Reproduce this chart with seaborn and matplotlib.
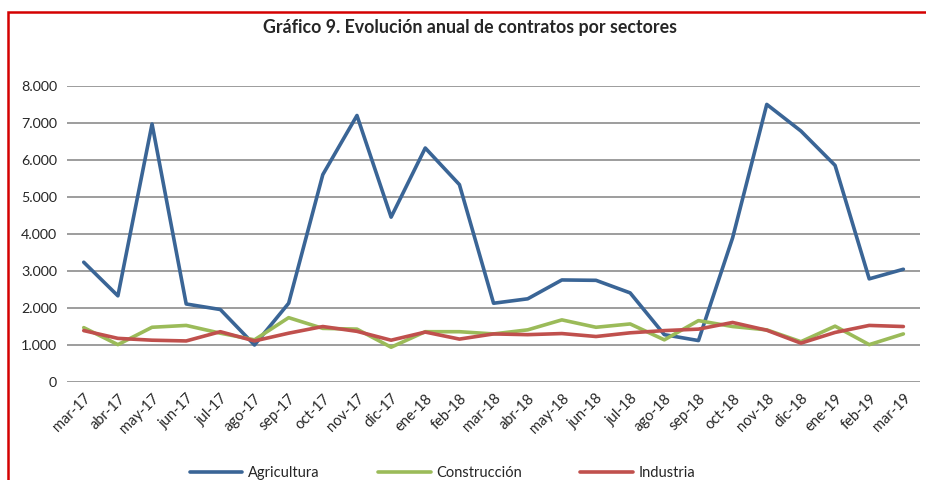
import pandas as pd
import matplotlib.pyplot as plt
import seaborn as sns
from matplotlib.patches import Rectangle

meses = ['mar-17', 'abr-17', 'may-17', 'jun-17', 'jul-17', 'ago-17', 'sep-17',
         'oct-17', 'nov-17', 'dic-17', 'ene-18', 'feb-18', 'mar-18', 'abr-18',
         'may-18', 'jun-18', 'jul-18', 'ago-18', 'sep-18', 'oct-18', 'nov-18',
         'dic-18', 'ene-19', 'feb-19', 'mar-19']

agricultura = [3230, 2320, 6970, 2100, 1950, 990, 2120, 5600, 7200, 4450,
               6320, 5330, 2120, 2240, 2750, 2740, 2400, 1270, 1110, 3890,
               7500, 6780, 5850, 2780, 3040]
construccion = [1460, 1000, 1470, 1520, 1310, 1130, 1730, 1440, 1420, 930,
                1350, 1350, 1290, 1400, 1670, 1470, 1560, 1130, 1650, 1490,
                1400, 1080, 1500, 1000, 1290]
industria = [1380, 1170, 1120, 1100, 1350, 1100, 1310, 1490, 1360, 1120,
             1340, 1150, 1290, 1270, 1300, 1220, 1320, 1380, 1420, 1600,
             1390, 1040, 1330, 1520, 1490]

sectores = ['Agricultura', 'Construcción', 'Industria']
colores = ['#3A6596', '#9BBB59', '#C0504D']

df = pd.DataFrame({
    'mes': meses * 3,
    'pos': list(range(len(meses))) * 3,
    'sector': [s for s in sectores for _ in meses],
    'contratos': agricultura + construccion + industria,
})

sns.set_style('white')
plt.rcParams['font.family'] = ['Lato', 'DejaVu Sans']

fig = plt.figure(figsize=(9.26, 4.8), dpi=100)
ax = fig.add_axes([0.072, 0.205, 0.922, 0.616])

sns.lineplot(data=df, x='pos', y='contratos', hue='sector', palette=colores,
             linewidth=2.6, ax=ax, legend=True)

ax.set_xlim(-0.5, len(meses) - 0.5)
ax.set_ylim(0, 8000)
ax.set_yticks(range(0, 8001, 1000))
ax.set_yticklabels(['0'] + [f'{v // 1000}.000' for v in range(1000, 8001, 1000)],
                   fontsize=10.3)
ax.set_xticks(range(len(meses)))
ax.set_xticklabels(meses, rotation=45, ha='right', rotation_mode='anchor',
                   fontsize=10.5)
ax.tick_params(axis='both', length=0, pad=7)
ax.yaxis.grid(True, color='#8C8C8C', linewidth=1.2)
ax.set_axisbelow(True)
for s in ax.spines.values():
    s.set_visible(False)
ax.set_xlabel('')
ax.set_ylabel('')

handles, labels = ax.get_legend_handles_labels()
ax.legend(handles, labels, loc='center', bbox_to_anchor=(0.478, 0.015),
          bbox_transform=fig.transFigure, ncol=3, frameon=False, fontsize=10.5,
          handlelength=3.6, columnspacing=4.0, handletextpad=0.4)

fig.text(0.508, 0.942, 'Gráfico 9. Evolución anual de contratos por sectores',
         ha='center', va='center', fontsize=12.8, fontweight='bold')

# marco rojo
fig.patches.append(Rectangle((7.5 / 926, -0.1), 1.1, 1 - 11.5 / 480 + 0.1,
                             transform=fig.transFigure, fill=False,
                             edgecolor='#D40000', linewidth=1.8))

fig.savefig('out.png', dpi=100, facecolor='white')
